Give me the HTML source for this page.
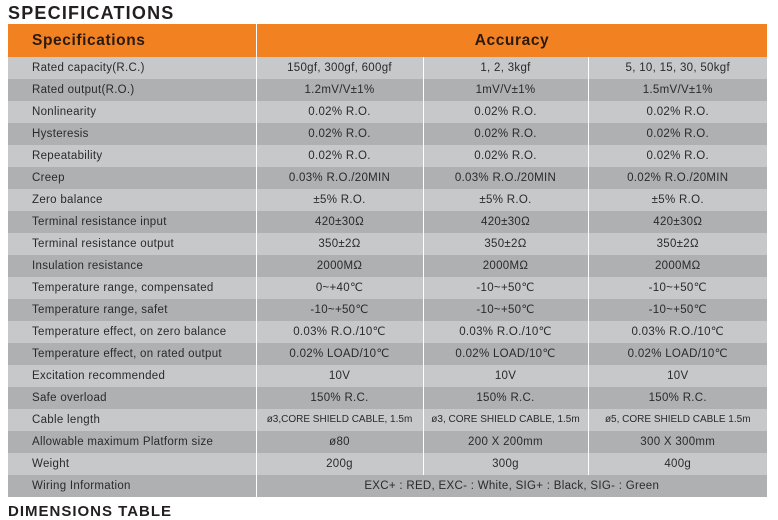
<!DOCTYPE html>
<html><head><meta charset="utf-8"><style>
body{margin:0;width:778px;height:509px;background:#fff;position:relative;overflow:hidden;font-family:"Liberation Sans","DejaVu Sans",sans-serif;}
.t{position:absolute;left:8px;top:3px;font-weight:bold;font-size:18px;line-height:20px;color:#231f20;letter-spacing:1.2px}
.b{position:absolute;left:8px;top:503px;font-weight:bold;font-size:15px;line-height:17px;color:#231f20;letter-spacing:1px}
.hd{position:absolute;top:24px;height:33px;background:#f28122;font-weight:bold;font-size:15.5px;color:#2a1a10;line-height:33px;letter-spacing:.6px}
table{position:absolute;left:8px;top:57px;width:759px;border-collapse:collapse;table-layout:fixed;font-size:11.5px;color:#2a2a2a;letter-spacing:.3px}
td{height:22px;padding:0;text-align:center;vertical-align:middle;border:none;border-left:1px solid #fff;white-space:nowrap;overflow:hidden;line-height:14px}
td:first-child{text-align:left;padding-left:24px;border-left:none}
tr:nth-child(odd) td{background:#c7c8ca}
tr:nth-child(even) td{background:#afb0b2}
.s{font-size:10px;letter-spacing:0}
</style></head><body>
<div class="t">SPECIFICATIONS</div>
<div class="hd" style="left:8px;width:248px;padding-left:24px;box-sizing:border-box">Specifications</div>
<div class="hd" style="left:257px;width:510px;text-align:center">Accuracy</div>
<table>
<colgroup><col style="width:248px"><col style="width:167px"><col style="width:165px"><col style="width:179px"></colgroup>
<tr><td>Rated capacity(R.C.)</td><td>150gf, 300gf, 600gf</td><td>1, 2, 3kgf</td><td>5, 10, 15, 30, 50kgf</td></tr>
<tr><td>Rated output(R.O.)</td><td>1.2mV/V±1%</td><td>1mV/V±1%</td><td>1.5mV/V±1%</td></tr>
<tr><td>Nonlinearity</td><td>0.02% R.O.</td><td>0.02% R.O.</td><td>0.02% R.O.</td></tr>
<tr><td>Hysteresis</td><td>0.02% R.O.</td><td>0.02% R.O.</td><td>0.02% R.O.</td></tr>
<tr><td>Repeatability</td><td>0.02% R.O.</td><td>0.02% R.O.</td><td>0.02% R.O.</td></tr>
<tr><td>Creep</td><td>0.03% R.O./20MIN</td><td>0.03% R.O./20MIN</td><td>0.02% R.O./20MIN</td></tr>
<tr><td>Zero balance</td><td>±5% R.O.</td><td>±5% R.O.</td><td>±5% R.O.</td></tr>
<tr><td>Terminal resistance input</td><td>420±30Ω</td><td>420±30Ω</td><td>420±30Ω</td></tr>
<tr><td>Terminal resistance output</td><td>350±2Ω</td><td>350±2Ω</td><td>350±2Ω</td></tr>
<tr><td>Insulation resistance</td><td>2000MΩ</td><td>2000MΩ</td><td>2000MΩ</td></tr>
<tr><td>Temperature range, compensated</td><td>0~+40℃</td><td>-10~+50℃</td><td>-10~+50℃</td></tr>
<tr><td>Temperature range, safet</td><td>-10~+50℃</td><td>-10~+50℃</td><td>-10~+50℃</td></tr>
<tr><td>Temperature effect, on zero balance</td><td>0.03% R.O./10℃</td><td>0.03% R.O./10℃</td><td>0.03% R.O./10℃</td></tr>
<tr><td>Temperature effect, on rated output</td><td>0.02% LOAD/10℃</td><td>0.02% LOAD/10℃</td><td>0.02% LOAD/10℃</td></tr>
<tr><td>Excitation recommended</td><td>10V</td><td>10V</td><td>10V</td></tr>
<tr><td>Safe overload</td><td>150% R.C.</td><td>150% R.C.</td><td>150% R.C.</td></tr>
<tr><td>Cable length</td><td class="s">ø3,CORE SHIELD CABLE, 1.5m</td><td class="s">ø3, CORE SHIELD CABLE, 1.5m</td><td class="s">ø5, CORE SHIELD CABLE 1.5m</td></tr>
<tr><td>Allowable maximum Platform size</td><td>ø80</td><td>200 X 200mm</td><td>300 X 300mm</td></tr>
<tr><td>Weight</td><td>200g</td><td>300g</td><td>400g</td></tr>
<tr><td>Wiring Information</td><td colspan="3">EXC+ : RED, EXC- : White, SIG+ : Black, SIG- : Green</td></tr>
</table>
<div class="b">DIMENSIONS TABLE</div>
</body></html>
